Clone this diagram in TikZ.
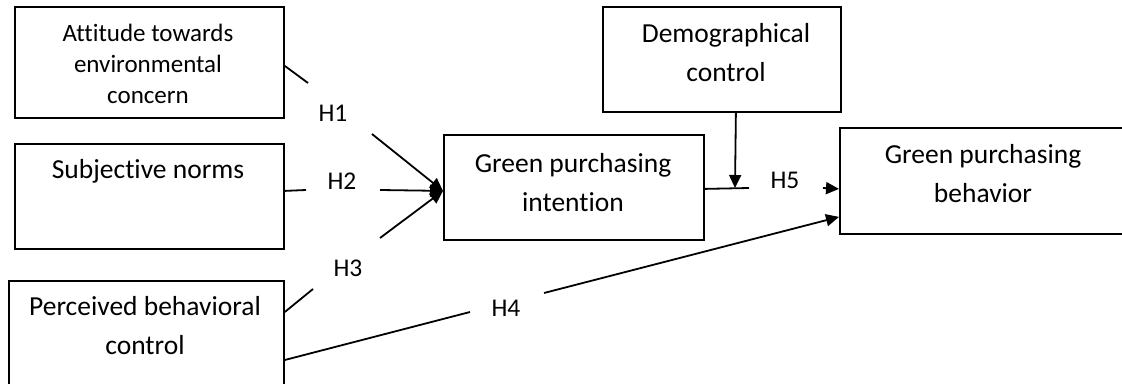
\documentclass[tikz,border=0pt]{standalone}
\usepackage{fontspec}
\setmainfont{Carlito}[Ligatures={NoCommon}]
\usetikzlibrary{arrows.meta}
\tikzset{
  box/.style={draw=black, line width=1.8pt, rectangle, inner sep=0pt, anchor=north west},
  txt/.style={align=center, inner sep=0pt, font=\fontsize{27.5}{39}\selectfont},
  smalltxt/.style={align=center, inner sep=0pt, font=\fontsize{25}{31}\selectfont},
  hlab/.style={inner sep=0pt, font=\fontsize{25.5}{30}\selectfont},
  conn/.style={line width=1.8pt},
  arr/.style={line width=1.8pt, -{Triangle[length=13pt,width=12pt]}}
}
\begin{document}
\begin{tikzpicture}[x=1pt,y=-1pt]
\useasboundingbox (0,0) rectangle (1122,383);
\clip (0,0) rectangle (1122,383);
% boxes
\node[box, minimum width=269pt, minimum height=111pt] (att) at (14,6) {};
\node[box, minimum width=269pt, minimum height=105pt] (sub) at (14,143) {};
\node[box, minimum width=275pt, minimum height=120pt] (pbc) at (8,280) {};
\node[box, minimum width=260pt, minimum height=105pt] (int) at (443,134) {};
\node[box, minimum width=238pt, minimum height=105pt] (dem) at (602,6) {};
\node[box, minimum width=290pt, minimum height=106pt] (beh) at (839,127) {};
% texts
\node[smalltxt] (attT) at (148,64) {Attitude towards\\environmental\\concern};
\node[txt] (subT) at (148,171) {Subjective norms};
\node[txt] (pbcT) at (145,326) {Perceived behavioral\\control};
\node[txt] (intT) at (573,182.5) {Green purchasing\\intention};
\node[txt] (demT) at (726,53) {Demographical\\control};
\node[txt] (behT) at (983,174) {Green purchasing\\behavior};
% labels
\node[hlab] (H1) at (333,113) {H1};
\node[hlab] (H2) at (342,181) {H2};
\node[hlab] (H3) at (348,268) {H3};
\node[hlab] (H4) at (506,308) {H4};
\node[hlab] (H5) at (785,180) {H5};
% connector points
\coordinate (it) at ([yshift=-3.5pt]int.west);
\coordinate (h1a) at (308,83);
\coordinate (h1b) at (372,134);
\coordinate (h2a) at (306,190);
\coordinate (h2b) at (380,190);
\coordinate (h3a) at (313,289);
\coordinate (h3b) at (380,238);
\coordinate (h4a) at (470,312);
\coordinate (h4b) at (544,293);
\coordinate (h5a) at (749,188);
\coordinate (h5b) at (823,188);
\coordinate (dm) at (735,188);
% connectors
\draw[conn] ([yshift=-3.5pt]att.east) -- (h1a);
\draw[arr] (h1b) -- (it);
\draw[conn] ([yshift=5.5pt]sub.east) -- (h2a);
\draw[arr] (h2b) -- (it);
\draw[conn] ([yshift=-32pt]pbc.north east) -- (h3a);
\draw[arr] (h3b) -- (it);
\draw[conn] ([yshift=-80pt]pbc.north east) -- (h4a);
\draw[arr] (h4b) -- ([yshift=-36pt]beh.west);
\draw[conn] ([yshift=-1.5pt]int.east) -- (h5a);
\draw[arr] ([xshift=14pt]dem.south) -- (dm);
\draw[arr] (h5b) -- ([yshift=-8pt]beh.west);
\end{tikzpicture}
\end{document}
